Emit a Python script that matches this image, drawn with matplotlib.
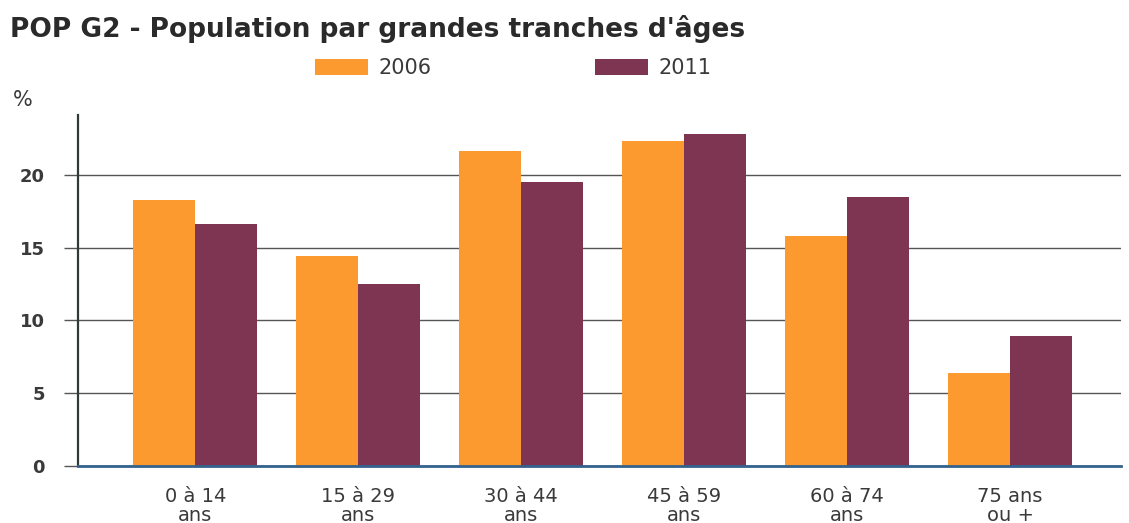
import matplotlib
matplotlib.use("Agg")
import matplotlib.pyplot as plt
import numpy as np

# données (en %)
categories = ["0 à 14\nans", "15 à 29\nans", "30 à 44\nans", "45 à 59\nans", "60 à 74\nans", "75 ans\nou +"]
values_2006 = [18.3, 14.4, 21.6, 22.3, 15.8, 6.4]
values_2011 = [16.6, 12.5, 19.5, 22.8, 18.5, 8.9]
series_labels = ["2006", "2011"]
y_ticks = [0, 5, 10, 15, 20]

COLOR_2006 = "#FC9A2F"
COLOR_2011 = "#7D3552"
TEXT_COLOR = "#3a3a3a"

plt.rcParams["font.family"] = ["DejaVu Sans"]

fig = plt.figure(figsize=(11.29, 5.23), dpi=100)
ax = fig.add_axes([0.0691, 0.109, 0.9238, 0.671])

x = np.arange(len(categories))
width = 0.38
ax.bar(x - width / 2, values_2006, width, color=COLOR_2006, label=series_labels[0], zorder=2)
ax.bar(x + width / 2, values_2011, width, color=COLOR_2011, label=series_labels[1], zorder=2)

ax.set_xlim(-0.72, 5.68)
ax.set_ylim(0, 24.1)
ax.set_yticks(y_ticks)
ax.set_xticks(x)
ax.set_xticklabels(categories, fontsize=14, color=TEXT_COLOR, linespacing=1.0)
ax.tick_params(axis="x", length=0, pad=15)
ax.tick_params(axis="y", length=10, width=1, color="#555555", labelsize=13,
               labelcolor=TEXT_COLOR, pad=14)
for lbl in ax.get_yticklabels():
    lbl.set_fontweight("bold")

ax.yaxis.grid(True, color="#555555", linewidth=1, zorder=0)
ax.set_axisbelow(True)

for side in ["top", "right"]:
    ax.spines[side].set_visible(False)
ax.spines["left"].set_color("#2f3b35")
ax.spines["left"].set_linewidth(1.6)
ax.spines["bottom"].set_color("#34628e")
ax.spines["bottom"].set_linewidth(2)

fig.text(0.009, 0.945, "POP G2 - Population par grandes tranches d'âges",
         fontsize=19, fontweight="bold", color="#2a2a2a", va="center")
fig.text(0.011, 0.808, "%", fontsize=15, color=TEXT_COLOR, va="center")

fig.legend(loc="upper left", bbox_to_anchor=(0.279, 0.889), ncol=2, frameon=False,
           fontsize=15, handlelength=2.55, handleheight=0.85, handletextpad=0.5,
           columnspacing=7.85, labelcolor=TEXT_COLOR, borderaxespad=0, borderpad=0)

fig.savefig("out.png", dpi=100)
